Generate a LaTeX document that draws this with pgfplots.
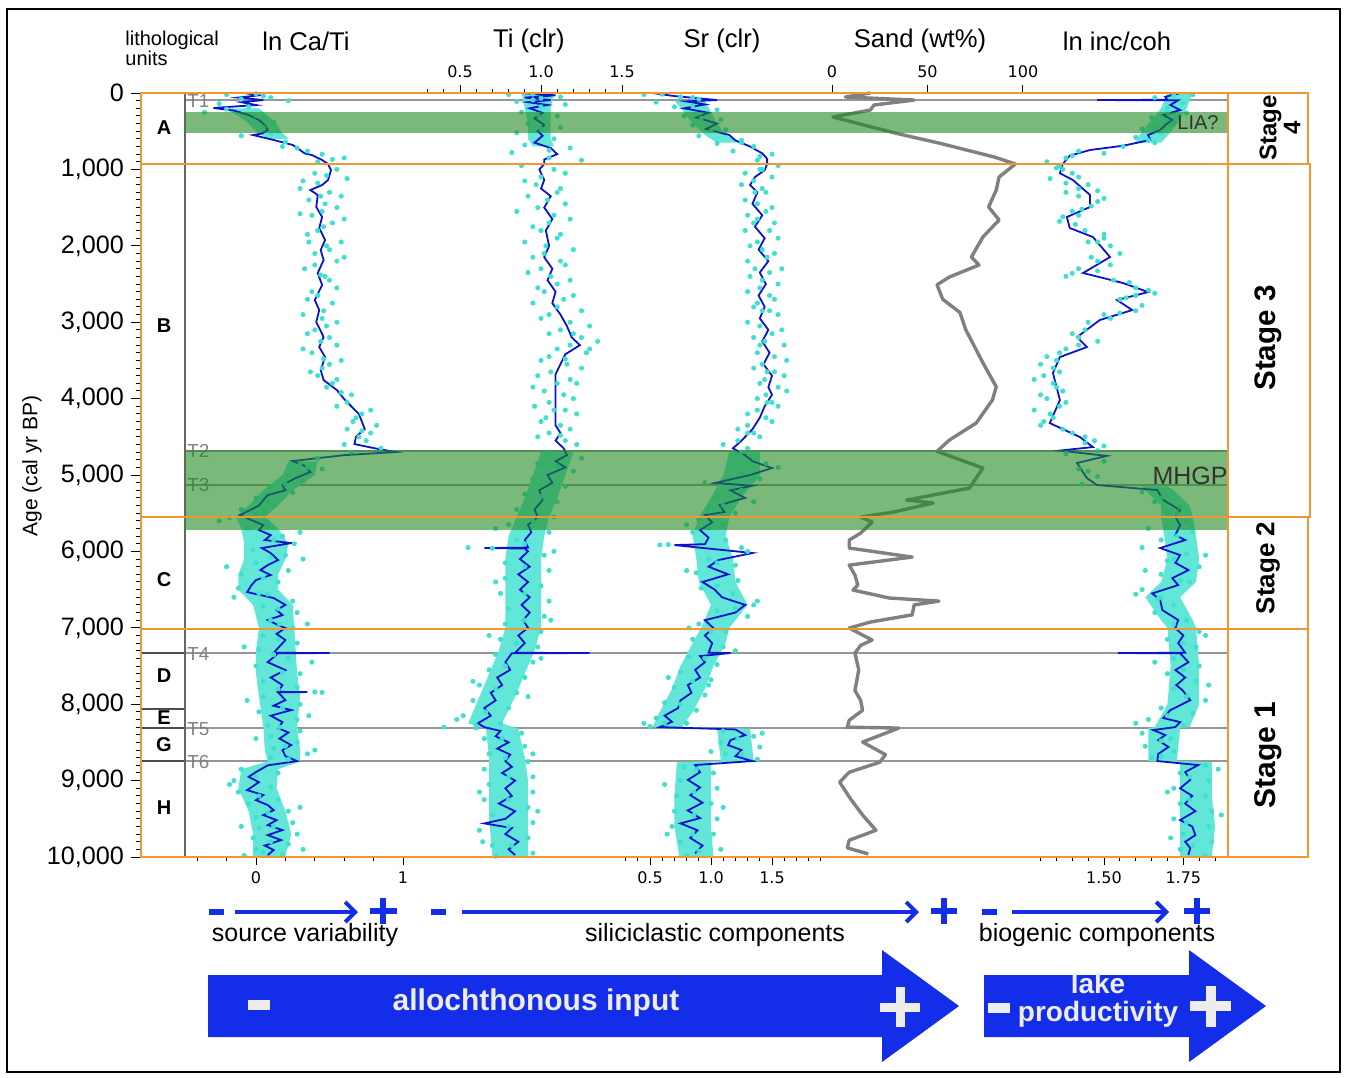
\documentclass[border=0pt]{standalone}
\usepackage{pgfplots}
\pgfplotsset{compat=1.18}
\usetikzlibrary{arrows.meta}
\usepackage{fontspec}
\setmainfont{Liberation Sans}
\newfontfamily\dejavu{DejaVu Sans}
\newcommand\fs[1]{\fontsize{#1}{#1}\selectfont}
\definecolor{cyanpt}{RGB}{64,224,208}
\definecolor{lineblue}{RGB}{10,20,205}
\definecolor{bandgreen}{RGB}{34,139,34}
\definecolor{stageorange}{RGB}{240,150,50}
\definecolor{arrowblue}{RGB}{20,45,232}
\definecolor{sandgray}{RGB}{128,128,128}
\definecolor{tgray}{RGB}{150,150,150}
\definecolor{darktext}{RGB}{50,50,50}
\pgfplotsset{
  panel/.style={scale only axis, height=382pt, ymin=0, ymax=10000, y dir=reverse,
    axis y line=none, ytick=\empty, clip=false, anchor=north west,
    axis line style={black, line width=0.6pt},
    tick align=outside, major tick length=4pt, minor tick length=2pt,
    tick style={black, line width=0.5pt},
    ticklabel style={font=\dejavu\fs{8}, /pgf/number format/assume math mode=true},
    scaled x ticks=false},
  sc/.style={only marks, mark=*, color=cyanpt, mark size=1.05pt, mark options={draw=cyanpt, fill=cyanpt}},
  env/.style={fill=cyanpt!82, draw=none, no marks, forget plot},
  ln/.style={no marks, lineblue, line width=0.9pt},
}
\begin{document}
\begin{tikzpicture}
\begin{scope}[x=0.5pt,y=-0.5pt]
\path[use as bounding box] (0,0) rectangle (1347,1077);
\coordinate (B0) at (141,93);
\coordinate (P1) at (185,93);
\coordinate (P2) at (418,93);
\coordinate (P3) at (622,93);
\coordinate (P4) at (822,93);
\coordinate (P5) at (1027,93);
% T lines and labels (beneath the data)
\draw[tgray, line width=0.6pt] (185,100)--(1228,100) (185,451)--(1228,451) (185,485)--(1228,485)
  (185,653)--(1228,653) (185,728)--(1228,728) (185,761)--(1228,761);
\begin{scope}[every node/.style={text=black!50, anchor=west, font=\fs{9.4}, inner sep=1pt}]
\node at (185,101) {T1};
\node at (185,451) {T2};
\node at (185,485) {T3};
\node at (185,654) {T4};
\node at (185,729) {T5};
\node at (185,762) {T6};
\end{scope}
\end{scope}

% ---------- ln Ca/Ti ----------
\begin{axis}[panel, at={(P1)}, width=116.5pt, xmin=-0.48299, xmax=1.10204,
  axis x line*=bottom, xtick={0,1}, xticklabels={0,1},
  minor xtick={-0.4,-0.2,0.2,0.4,0.6,0.8}]
\addplot[env] coordinates {(0.02,200) (0.08,300) (0.14,400) (0.17,500) (0.22,600) (0.08,600) (0.0,500) (-0.05,400) (-0.12,300) (-0.22,200)};
\addplot[env] coordinates {(0.42,4820) (0.40,5000) (0.25,5200) (0.15,5400) (0.06,5550) (0.15,5700) (0.22,5900) (0.20,6100) (0.15,6300) (0.15,6500) (0.25,6700) (0.26,7000) (0.27,7300) (0.28,7600) (0.30,7900) (0.28,8300) (0.30,8600) (0.30,8750) (0.15,8850) (0.14,9100) (0.20,9400) (0.24,9700) (0.20,9990)
(-0.02,9990) (-0.02,9700) (-0.05,9400) (-0.12,9100) (-0.10,8850) (0.08,8750) (0.06,8600) (0.05,8300) (0.02,7900) (0.0,7600) (0.0,7300) (0.02,7000) (-0.02,6700) (-0.12,6500) (-0.12,6300) (-0.08,6100) (-0.08,5900) (-0.10,5700) (-0.14,5550) (-0.05,5400) (0.05,5200) (0.18,5000) (0.22,4820)};
\addplot[sc] coordinates {
(-0.20,20) (0.05,40) (0.22,100) (-0.25,140) (0.10,60) (-0.05,180) (-0.35,250) (0.0,300) (0.12,380) (0.05,450) (0.15,500) (-0.10,560) (0.20,640) (0.18,700) (0.35,760) (0.45,800) (0.52,870) (0.60,850) (0.55,1000) (0.40,1050) (0.62,1120) (0.30,1250) (0.50,1300) (0.36,1400) (0.55,1500) (0.38,1600) (0.52,1700) (0.35,1850) (0.58,1950) (0.40,2100) (0.55,2200) (0.33,2300) (0.50,2450) (0.38,2600) (0.52,2750) (0.32,2900) (0.48,3050) (0.35,3150) (0.55,3300) (0.38,3400) (0.50,3550) (0.37,3650) (0.55,3750) (0.48,3850) (0.65,3950) (0.55,4100) (0.78,4150) (0.66,4300) (0.82,4350) (0.70,4500) (0.60,4600) (0.85,4650) (0.42,4780) (0.30,4850) (0.45,4920) (0.22,5000) (0.32,5080) (0.10,5150) (0.25,5230) (0.0,5300) (0.12,5380) (-0.10,5450) (0.05,5480) (-0.18,5560) (0.08,5620) (-0.05,5700) (0.18,5800) (0.26,5900) (-0.02,5980) (0.20,6050) (0.00,6150) (0.22,6250) (-0.10,6300) (0.15,6400) (-0.12,6480) (0.08,6560) (0.25,6650) (0.05,6720) (0.28,6800) (0.10,6900) (0.25,7000) (0.05,7100) (0.28,7200) (0.02,7280) (0.22,7400) (0.0,7500) (0.30,7600) (0.05,7700) (0.28,7780) (0.40,7840) (0.45,7845) (0.05,7900) (0.30,8000) (0.02,8100) (0.28,8200) (0.08,8280) (0.30,8350) (0.10,8420) (0.28,8500) (0.12,8580) (0.35,8650) (0.10,8700) (-0.10,8850) (0.15,8900) (-0.15,9000) (0.10,9080) (-0.12,9150) (0.15,9250) (-0.05,9300) (0.22,9400) (0.0,9480) (0.25,9550) (0.02,9620) (0.28,9700) (-0.02,9750) (0.22,9830) (0.0,9900) (0.18,9960) (-0.08,9980)
(0.0,10) (-0.1,80) (-0.2,210) (0.05,330) (0.1,520) (0.28,720) (0.42,900) (0.48,1080) (0.42,1180) (0.44,1350) (0.45,1550) (0.42,1800) (0.48,2000) (0.44,2380) (0.42,2650) (0.45,2950) (0.44,3250) (0.45,3600) (0.58,3920) (0.68,4250) (0.72,4420) (0.35,4900) (0.20,5120) (0.08,5350) (0.0,5520) (0.08,5680) (0.12,5850) (0.10,6080) (0.05,6350) (0.02,6550) (0.15,6750) (0.16,6950) (0.15,7150) (0.12,7350) (0.18,7580) (0.15,7800) (0.18,8050) (0.16,8300) (0.2,8550) (0.22,8720) (0.0,8950) (0.02,9200) (0.08,9420) (0.12,9600) (0.1,9800) (0.05,9940)
(0.32,1150) (0.58,1350) (0.47,1450) (0.30,1580) (0.60,1650) (0.46,1750) (0.36,1950) (0.50,2050) (0.60,2150) (0.40,2250) (0.47,2400) (0.55,2550) (0.35,2700) (0.46,2850) (0.55,3000) (0.40,3100) (0.50,3200) (0.32,3350) (0.46,3480) (0.58,3500) (0.42,3700) (0.52,3800) (0.62,4050) (0.72,4200) (0.62,4400) (0.78,4450) (0.75,4550) (0.65,4700)
(-0.25,5600) (0.30,5750) (-0.20,6200) (0.32,6100) (-0.15,6600) (0.35,6950) (-0.08,7250) (0.38,7450) (-0.06,7950) (0.36,8150) (0.0,8450) (0.40,8600) (-0.18,9050) (0.30,9350) (-0.10,9600) (0.32,9900)
};
\addplot[ln] coordinates {
(-0.08,0) (0.02,30) (-0.12,60) (0.05,92) (-0.10,120) (0.0,157) (-0.29,196) (-0.15,230) (-0.05,288) (0.02,353) (0.06,420) (0.08,484) (0.04,530) (-0.02,550) (0.12,615) (0.25,680) (0.30,746) (0.33,790) (0.38,812) (0.45,877) (0.49,929) (0.51,1010) (0.49,1139) (0.45,1204) (0.37,1270) (0.42,1335) (0.41,1492) (0.45,1623) (0.43,1767) (0.47,1924) (0.44,2055) (0.46,2186) (0.42,2356) (0.45,2513) (0.40,2710) (0.43,2841) (0.41,2998) (0.46,3194) (0.43,3325) (0.47,3456) (0.44,3626) (0.46,3757) (0.55,3888) (0.60,4006) (0.70,4202) (0.74,4398) (0.68,4500) (0.67,4595) (0.80,4647) (0.95,4699) (0.60,4740) (0.25,4817) (0.33,4880) (0.37,4961) (0.27,5040) (0.18,5131) (0.20,5200) (0.08,5262) (0.05,5328) (0.02,5400) (-0.04,5459) (-0.11,5524) (-0.03,5590) (0.05,5655) (0.02,5720) (0.10,5786) (0.06,5851) (0.24,5891) (0.04,5956) (0.10,6021) (0.15,6113) (0.08,6179) (0.03,6244) (0.10,6309) (0.00,6375) (-0.03,6440) (-0.06,6532) (0.12,6610) (0.20,6700) (0.14,6768) (0.18,6833) (0.08,6898) (0.15,6964) (0.20,7003) (0.14,7080) (0.20,7160) (0.12,7327) (0.50,7330) (0.15,7333) (0.08,7450) (0.20,7553) (0.10,7650) (0.18,7750) (0.15,7838) (0.35,7841) (0.15,7844) (0.20,7946) (0.12,8020) (0.24,8077) (0.10,8150) (0.18,8234) (0.15,8312) (0.22,8370) (0.16,8450) (0.24,8535) (0.18,8600) (0.20,8680) (0.28,8744) (0.08,8800) (0.00,8888) (-0.05,8950) (0.02,9020) (-0.06,9124) (0.05,9189) (0.00,9255) (0.08,9320) (0.12,9386) (0.05,9451) (0.14,9517) (0.08,9582) (0.18,9647) (0.08,9713) (0.17,9778) (0.06,9850) (0.12,9909) (0.08,9974)
};
\end{axis}

% ---------- Ti (clr) ----------
\begin{axis}[panel, at={(P2)}, width=110pt, xmin=0.24074, xmax=1.59877,
  axis x line*=top, xtick={0.5,1,1.5}, xticklabels={0.5,1.0,1.5},
  minor xtick={0.3,0.4,0.6,0.7,0.8,0.9,1.1,1.2,1.3,1.4,1.6}]
\addplot[env] coordinates {(1.08,0) (1.06,200) (1.06,400) (1.06,600) (1.08,700) (0.95,700) (0.92,600) (0.92,400) (0.90,200) (0.88,0)};
\addplot[env] coordinates {(1.20,4700) (1.15,5000) (1.10,5300) (1.05,5550) (1.02,5800) (1.00,6100) (1.00,6500) (1.00,7000) (0.96,7300) (0.90,7600) (0.84,7900) (0.76,8250) (0.86,8320) (0.90,8700) (0.92,9000) (0.92,9500) (0.92,9990)
(0.70,9990) (0.68,9500) (0.68,9000) (0.68,8700) (0.66,8320) (0.55,8250) (0.62,7900) (0.68,7600) (0.74,7300) (0.78,7000) (0.78,6500) (0.78,6100) (0.80,5800) (0.85,5550) (0.90,5300) (0.95,5000) (1.00,4700)};
\addplot[sc] coordinates {
(0.80,20) (1.12,50) (0.85,110) (1.15,150) (0.95,90) (0.88,250) (1.10,300) (0.92,400) (1.12,450) (0.85,520) (1.08,600) (0.90,680) (1.18,720) (0.82,780) (1.05,850) (1.25,880) (0.88,950) (1.15,1050) (0.90,1150) (1.12,1250) (0.92,1350) (1.15,1450) (0.85,1550) (1.18,1650) (0.95,1750) (1.12,1850) (0.90,1950) (1.20,2050) (0.95,2150) (1.15,2250) (0.92,2350) (1.18,2450) (0.98,2550) (1.20,2650) (0.95,2750) (1.25,2850) (1.00,2950) (1.30,3050) (1.05,3150) (1.35,3250) (1.10,3350) (1.28,3400) (1.00,3500) (1.25,3600) (0.98,3700) (1.22,3800) (1.02,3900) (1.20,4000) (0.96,4100) (1.22,4200) (1.00,4300) (1.18,4400) (0.98,4500) (1.22,4600) (1.05,4700) (1.25,4780) (0.98,4850) (1.20,4950) (0.95,5050) (1.15,5150) (0.90,5250) (1.10,5350) (0.85,5450) (1.08,5550) (0.80,5650) (1.05,5750) (0.85,5850) (0.55,5950) (0.70,5960) (1.02,6050) (0.78,6150) (1.05,6250) (0.78,6350) (1.00,6450) (0.75,6550) (1.05,6650) (0.80,6750) (1.02,6850) (0.78,6950) (1.00,7050) (0.75,7150) (0.98,7250) (0.72,7350) (0.95,7450) (0.68,7550) (0.90,7650) (0.62,7750) (0.85,7850) (0.58,7950) (0.80,8050) (0.52,8150) (0.75,8250) (0.40,8300) (0.60,8310) (0.88,8380) (0.65,8450) (0.90,8550) (0.68,8650) (0.92,8750) (0.65,8850) (0.95,8950) (0.68,9050) (0.95,9150) (0.65,9250) (0.92,9350) (0.70,9450) (0.95,9550) (0.62,9650) (0.92,9750) (0.70,9850) (0.95,9950) (0.72,9990)
(0.95,15) (1.0,70) (1.0,180) (0.98,280) (1.0,470) (1.05,750) (1.0,1100) (1.04,1400) (1.05,1700) (1.03,2000) (1.06,2400) (1.1,2800) (1.2,3150) (1.15,3480) (1.1,3800) (1.08,4150) (1.12,4480) (1.1,4880) (1.0,5280) (0.95,5600) (0.9,5900) (0.9,6200) (0.9,6550) (0.9,6900) (0.85,7200) (0.78,7500) (0.72,7800) (0.66,8100) (0.6,8280) (0.76,8450) (0.78,8700) (0.8,8950) (0.8,9250) (0.8,9600) (0.82,9850)
(1.08,1000) (0.97,1200) (1.10,1300) (0.98,1500) (1.08,1600) (1.00,1800) (1.10,1900) (1.02,2100) (1.12,2200) (1.00,2300) (1.10,2500) (1.02,2600) (1.14,2700) (1.05,2900) (1.18,3000) (1.12,3100) (1.25,3200) (1.18,3300) (1.30,3350) (1.05,3450) (1.16,3550) (1.06,3650) (1.18,3750) (0.95,3850) (1.14,3950) (1.05,4050) (1.15,4150) (1.03,4250) (1.12,4350) (1.05,4450) (1.15,4550)
(0.72,5700) (1.08,6000) (0.72,6400) (1.06,6900) (0.68,7100) (1.00,7400) (0.58,7700) (0.92,7900) (0.48,8200) (0.95,8650) (0.62,9150) (0.98,9400) (0.64,9800)
};
\addplot[ln] coordinates {
(0.87,0) (1.09,30) (0.90,60) (1.06,92) (0.92,120) (1.04,157) (0.93,200) (1.01,260) (0.96,330) (1.02,420) (0.98,500) (1.01,560) (0.96,650) (1.06,720) (1.10,800) (1.02,870) (1.02,929) (0.99,1000) (1.02,1139) (1.00,1250) (1.06,1350) (1.02,1500) (1.07,1650) (1.03,1800) (1.05,2000) (1.02,2150) (1.07,2300) (1.04,2450) (1.09,2600) (1.07,2750) (1.12,2900) (1.16,3050) (1.19,3200) (1.24,3300) (1.15,3420) (1.12,3550) (1.09,3680) (1.09,4350) (1.12,4450) (1.09,4550) (1.14,4650) (1.16,4740) (1.09,4820) (1.15,4900) (1.04,5000) (1.07,5100) (0.99,5200) (1.01,5330) (0.96,5450) (0.98,5550) (0.92,5650) (0.94,5750) (0.90,5850) (0.92,5950) (0.65,5956) (0.90,5962) (0.92,6000) (0.87,6100) (0.93,6200) (0.86,6300) (0.92,6400) (0.87,6500) (0.93,6600) (0.88,6700) (0.93,6800) (0.89,6900) (0.92,7000) (0.86,7100) (0.90,7200) (0.84,7327) (1.30,7330) (0.82,7333) (0.78,7450) (0.81,7550) (0.73,7650) (0.76,7750) (0.69,7850) (0.72,7950) (0.65,8050) (0.69,8150) (0.61,8250) (0.65,8300) (0.75,8350) (0.72,8420) (0.80,8500) (0.73,8580) (0.81,8660) (0.78,8744) (0.82,8820) (0.76,8900) (0.84,9000) (0.78,9100) (0.82,9200) (0.74,9300) (0.84,9400) (0.78,9500) (0.65,9560) (0.82,9620) (0.78,9700) (0.86,9800) (0.80,9900) (0.84,9974)
};
\end{axis}

% ---------- Sr (clr) ----------
\begin{axis}[panel, at={(P3)}, width=100.5pt, xmin=0.27049, xmax=1.91803,
  axis x line*=bottom, xtick={0.5,1,1.5}, xticklabels={0.5,1.0,1.5},
  minor xtick={0.3,0.4,0.6,0.7,0.8,0.9,1.1,1.2,1.3,1.4,1.6,1.7,1.8,1.9}]
\addplot[env] coordinates {(0.95,100) (1.00,250) (1.05,400) (1.12,550) (1.25,650) (1.05,650) (0.95,550) (0.85,400) (0.78,250) (0.70,100)};
\addplot[env] coordinates {(1.40,4700) (1.40,5000) (1.25,5300) (1.15,5550) (1.12,5800) (1.18,6100) (1.20,6400) (1.30,6700) (1.15,7000) (1.12,7200) (1.02,7500) (0.95,7800) (0.85,8100) (0.76,8300) (1.32,8320) (1.35,8740) (1.00,8760) (1.00,9200) (1.00,9600) (1.02,9990)
(0.74,9990) (0.70,9600) (0.70,9200) (0.72,8760) (1.08,8740) (1.05,8320) (0.52,8300) (0.58,8100) (0.68,7800) (0.75,7500) (0.85,7200) (0.92,7000) (1.00,6700) (0.90,6400) (0.88,6100) (0.85,5800) (0.90,5550) (1.00,5300) (1.10,5000) (1.15,4700)};
\addplot[sc] coordinates {
(0.45,20) (0.75,50) (0.55,120) (0.90,80) (0.70,180) (1.05,220) (0.78,300) (1.08,350) (0.85,420) (1.12,480) (0.90,560) (1.25,620) (1.05,660) (1.35,700) (1.18,760) (1.50,800) (1.38,880) (1.55,950) (1.28,1050) (1.50,1100) (1.25,1200) (1.45,1300) (1.28,1400) (1.50,1500) (1.30,1600) (1.52,1700) (1.28,1800) (1.55,1900) (1.32,2000) (1.52,2100) (1.30,2200) (1.58,2300) (1.32,2400) (1.55,2500) (1.30,2600) (1.52,2700) (1.35,2800) (1.55,2900) (1.30,3000) (1.58,3100) (1.35,3200) (1.60,3300) (1.38,3400) (1.62,3500) (1.35,3600) (1.60,3700) (1.40,3800) (1.62,3900) (1.38,4000) (1.55,4100) (1.30,4200) (1.50,4300) (1.22,4400) (1.40,4500) (1.10,4600) (1.30,4650) (1.20,4750) (1.45,4850) (1.55,4900) (1.25,4980) (1.40,5050) (0.95,5100) (1.25,5200) (1.05,5280) (1.35,5350) (0.98,5420) (1.20,5500) (0.90,5580) (1.10,5650) (0.85,5750) (1.12,5850) (0.65,5910) (0.58,5915) (1.30,6000) (0.98,6100) (1.20,6180) (0.88,6280) (1.22,6380) (0.92,6480) (1.18,6550) (1.35,6700) (1.05,6780) (1.30,6850) (0.90,6950) (1.12,7050) (0.85,7150) (1.10,7250) (0.82,7380) (1.05,7480) (0.75,7580) (1.00,7680) (0.70,7780) (0.95,7880) (0.62,7980) (0.88,8080) (0.55,8180) (0.80,8250) (0.50,8290) (1.10,8350) (1.35,8420) (1.08,8500) (1.40,8560) (1.12,8650) (1.38,8720) (0.78,8820) (1.02,8900) (0.75,9000) (1.05,9100) (0.72,9200) (1.00,9300) (0.70,9400) (1.05,9500) (0.68,9600) (1.02,9700) (0.75,9800) (1.08,9900) (0.80,9980)
(0.6,15) (0.85,60) (0.85,170) (0.92,330) (1.0,500) (1.25,650) (1.4,830) (1.42,1000) (1.36,1300) (1.38,1650) (1.42,2050) (1.42,2450) (1.42,2850) (1.44,3250) (1.46,3650) (1.46,4050) (1.3,4450) (1.25,4700) (1.35,5050) (1.1,5400) (0.98,5700) (1.05,6150) (1.05,6450) (1.2,6750) (1.0,7050) (0.95,7400) (0.85,7700) (0.75,8000) (0.62,8250) (1.22,8450) (1.25,8650) (0.88,8850) (0.86,9150) (0.86,9450) (0.85,9700) (0.9,9920)
(1.40,1000) (1.35,1150) (1.42,1250) (1.38,1450) (1.45,1550) (1.35,1700) (1.48,1800) (1.38,1950) (1.46,2150) (1.36,2300) (1.48,2350) (1.40,2550) (1.48,2650) (1.38,2750) (1.48,2850) (1.40,3050) (1.50,3150) (1.40,3300) (1.52,3450) (1.42,3550) (1.52,3650) (1.44,3750) (1.55,3850) (1.45,3950) (1.50,4050) (1.38,4150) (1.45,4250) (1.30,4350) (1.35,4450) (1.22,4550)
(0.80,5650) (1.25,5950) (0.80,6250) (1.38,6650) (0.82,7000) (1.20,7300) (0.65,7650) (0.98,7750) (0.45,8250) (1.42,8380) (1.00,8620) (0.62,9050) (1.10,9350) (0.64,9700)
};
\addplot[ln] coordinates {
(0.52,0) (0.70,40) (1.05,92) (0.80,110) (0.95,150) (0.78,200) (0.98,260) (0.88,320) (1.05,400) (0.96,470) (1.15,550) (1.20,620) (1.32,700) (1.42,790) (1.46,860) (1.46,929) (1.44,1010) (1.36,1100) (1.32,1204) (1.38,1300) (1.34,1450) (1.42,1600) (1.36,1750) (1.44,1900) (1.39,2050) (1.47,2200) (1.40,2350) (1.45,2500) (1.39,2650) (1.44,2800) (1.40,2950) (1.47,3100) (1.42,3250) (1.48,3400) (1.43,3550) (1.50,3700) (1.47,3850) (1.50,3950) (1.44,4100) (1.40,4250) (1.34,4400) (1.25,4550) (1.18,4650) (1.28,4740) (1.34,4820) (1.50,4909) (1.32,5000) (1.03,5105) (1.34,5140) (1.16,5200) (1.28,5300) (1.07,5393) (1.11,5485) (0.95,5524) (1.01,5620) (0.91,5720) (0.98,5820) (0.95,5905) (0.70,5917) (1.34,6021) (1.06,6113) (0.98,6200) (1.14,6300) (0.93,6400) (1.03,6500) (1.09,6600) (1.28,6700) (1.20,6800) (0.95,6900) (1.02,7003) (0.95,7100) (1.01,7200) (0.98,7327) (1.16,7330) (0.91,7370) (0.95,7450) (0.87,7550) (0.91,7650) (0.81,7750) (0.84,7850) (0.75,7950) (0.73,8050) (0.62,8150) (0.68,8230) (0.58,8300) (1.20,8330) (1.28,8404) (1.16,8470) (1.14,8535) (1.25,8600) (1.20,8680) (1.34,8744) (0.87,8796) (0.91,8890) (0.81,8990) (0.91,9090) (0.83,9190) (0.93,9290) (0.81,9390) (0.91,9490) (0.75,9560) (0.89,9650) (0.83,9750) (0.93,9850) (0.87,9950)
};
\end{axis}

% ---------- Sand (wt%) ----------
\begin{axis}[panel, at={(P4)}, width=102pt, xmin=-5.24, xmax=101.6,
  axis x line*=top, xtick={0,50,100}, xticklabels={0,50,100}]
\addplot[no marks, sandgray, line width=1.7pt, line join=round] coordinates {
(20,0) (7,52) (43,92) (22,157) (20,223) (0.5,314) (33,524) (56,655) (85,838) (96,929) (87.5,1100) (86,1270) (82,1492) (87.5,1662) (79,1885) (73,2147) (77,2251) (61.5,2408) (55,2510) (58,2700) (67,2873) (70,3096) (79,3530) (86,3845) (84,4019) (75.5,4320) (61.5,4542) (55,4690) (79,4909) (72,5171) (39,5328) (53,5367) (32,5485) (15,5550) (21,5616) (15,5760) (9,5851) (9,5956) (42,6074) (9,6179) (12,6309) (13.5,6440) (11,6506) (30,6610) (56,6650) (43,6700) (42,6830) (20,6925) (9,7003) (21,7160) (15,7230) (12,7330) (14,7550) (12,7820) (15,7950) (16,8080) (9,8210) (8,8300) (35,8312) (16,8495) (28,8660) (25,8760) (9,8890) (4,9020) (10,9250) (16,9450) (23,9650) (9,9780) (8,9880) (19,9960)
};
\end{axis}

% ---------- ln inc/coh ----------
\begin{axis}[panel, at={(P5)}, width=100.5pt, xmin=1.2573, xmax=1.8909,
  axis x line*=bottom, xtick={1.5,1.75}, xticklabels={1.50,1.75},
  minor xtick={1.30,1.35,1.40,1.45,1.55,1.60,1.65,1.70,1.80,1.85}]
\addplot[env] coordinates {(1.78,0) (1.76,200) (1.73,400) (1.70,560) (1.68,650) (1.60,650) (1.61,560) (1.64,400) (1.68,200) (1.70,0)};
\addplot[env] coordinates {(1.70,5150) (1.72,5200) (1.77,5400) (1.78,5550) (1.79,5800) (1.80,6100) (1.79,6400) (1.74,6600) (1.78,6900) (1.79,7000) (1.80,7500) (1.80,8000) (1.77,8300) (1.74,8310) (1.73,8740) (1.84,8760) (1.84,9200) (1.85,9600) (1.84,9990)
(1.74,9990) (1.74,9600) (1.74,9200) (1.74,8760) (1.64,8740) (1.64,8310) (1.66,8300) (1.70,8000) (1.71,7500) (1.70,7000) (1.68,6900) (1.63,6600) (1.68,6400) (1.70,6100) (1.69,5800) (1.68,5550) (1.68,5400) (1.63,5200) (1.62,5150)};
\addplot[sc] coordinates {
(1.78,20) (1.66,60) (1.75,130) (1.70,200) (1.76,260) (1.65,320) (1.72,400) (1.62,470) (1.68,520) (1.60,580) (1.66,650) (1.56,700) (1.42,760) (1.50,790) (1.38,850) (1.32,900) (1.35,980) (1.40,1050) (1.33,1120) (1.45,1200) (1.38,1300) (1.50,1380) (1.48,1420) (1.43,1520) (1.37,1620) (1.41,1720) (1.50,1850) (1.45,1950) (1.55,2100) (1.48,2200) (1.42,2300) (1.40,2360) (1.53,2450) (1.60,2550) (1.66,2620) (1.55,2700) (1.62,2780) (1.50,2900) (1.45,3000) (1.40,3150) (1.48,3250) (1.38,3350) (1.32,3450) (1.30,3550) (1.36,3650) (1.28,3750) (1.35,3850) (1.30,3950) (1.38,4050) (1.28,4150) (1.34,4250) (1.30,4350) (1.40,4450) (1.47,4550) (1.50,4620) (1.38,4720) (1.50,4820) (1.42,4920) (1.48,5020) (1.43,5120) (1.62,5220) (1.70,5280) (1.66,5350) (1.74,5420) (1.70,5500) (1.76,5600) (1.70,5680) (1.78,5750) (1.68,5850) (1.62,5950) (1.76,6030) (1.70,6120) (1.80,6200) (1.68,6300) (1.77,6400) (1.62,6500) (1.68,6600) (1.72,6700) (1.66,6800) (1.76,6900) (1.80,7050) (1.70,7150) (1.79,7250) (1.72,7400) (1.80,7500) (1.70,7600) (1.79,7700) (1.72,7800) (1.82,7950) (1.68,8050) (1.78,8120) (1.64,8200) (1.75,8280) (1.62,8380) (1.71,8450) (1.63,8550) (1.72,8620) (1.65,8700) (1.82,8800) (1.74,8900) (1.83,9000) (1.72,9100) (1.82,9200) (1.74,9300) (1.84,9400) (1.72,9500) (1.83,9600) (1.75,9700) (1.84,9800) (1.74,9900) (1.82,9980)
(1.72,30) (1.70,250) (1.66,450) (1.64,620) (1.40,820) (1.37,1000) (1.42,1250) (1.42,1600) (1.48,1950) (1.48,2330) (1.6,2650) (1.55,2880) (1.42,3200) (1.35,3500) (1.34,3800) (1.33,4200) (1.44,4580) (1.45,4950) (1.68,5300) (1.73,5500) (1.73,5800) (1.72,6100) (1.74,6380) (1.67,6620) (1.72,6950) (1.75,7200) (1.75,7550) (1.76,7900) (1.70,8150) (1.68,8480) (1.68,8680) (1.77,8950) (1.77,9250) (1.76,9550) (1.78,9850)
(1.36,950) (1.42,1100) (1.38,1180) (1.48,1280) (1.42,1350) (1.46,1480) (1.40,1550) (1.36,1680) (1.44,1800) (1.50,1900) (1.52,2000) (1.46,2150) (1.52,2250) (1.38,2400) (1.58,2480) (1.64,2580) (1.57,2680) (1.60,2850) (1.52,2950) (1.44,3100) (1.42,3300) (1.36,3400) (1.34,3600) (1.31,3700) (1.37,3900) (1.32,4000) (1.36,4100) (1.31,4300) (1.37,4400) (1.44,4500) (1.48,4680)
(1.64,5700) (1.82,6050) (1.63,6250) (1.60,6560) (1.82,7100) (1.66,7450) (1.83,7750) (1.60,8250) (1.86,8850) (1.70,9150) (1.87,9450) (1.71,9750)
};
\addplot[ln] coordinates {
(1.740,0) (1.693,50) (1.70,89) (1.478,92) (1.734,95) (1.709,157) (1.740,223) (1.687,288) (1.715,353) (1.693,420) (1.677,484) (1.639,550) (1.646,615) (1.56,690) (1.456,746) (1.392,820) (1.370,929) (1.361,1050) (1.402,1139) (1.456,1335) (1.456,1492) (1.383,1623) (1.392,1767) (1.465,1885) (1.519,2147) (1.434,2356) (1.560,2487) (1.639,2605) (1.541,2710) (1.589,2841) (1.487,2971) (1.415,3194) (1.446,3325) (1.361,3456) (1.339,3665) (1.361,4019) (1.329,4320) (1.424,4503) (1.465,4634) (1.361,4680) (1.509,4750) (1.415,4843) (1.446,5040) (1.478,5131) (1.668,5197) (1.687,5328) (1.740,5459) (1.725,5550) (1.740,5655) (1.725,5786) (1.756,5851) (1.677,5956) (1.740,6048) (1.725,6150) (1.766,6244) (1.715,6350) (1.734,6440) (1.652,6550) (1.677,6637) (1.684,6768) (1.734,6898) (1.725,7003) (1.750,7100) (1.734,7200) (1.756,7327) (1.544,7330) (1.740,7333) (1.766,7450) (1.725,7553) (1.756,7650) (1.728,7750) (1.747,7815) (1.772,7946) (1.709,8077) (1.687,8181) (1.740,8234) (1.725,8299) (1.655,8338) (1.693,8404) (1.671,8470) (1.703,8560) (1.671,8650) (1.668,8744) (1.797,8796) (1.756,8888) (1.772,8990) (1.740,9100) (1.778,9200) (1.756,9300) (1.788,9400) (1.740,9517) (1.778,9600) (1.788,9713) (1.756,9800) (1.772,9883) (1.766,9974)
};
\end{axis}

% ---------- base axis (age) ----------
\begin{axis}[scale only axis, anchor=north west, at={(B0)}, width=543.5pt, height=382pt,
  xmin=141, xmax=1228, ymin=0, ymax=10000, y dir=reverse, clip=false,
  axis x line=none, axis y line*=left,
  y axis line style={stageorange, line width=1.3pt},
  ytick={0,1000,...,10000}, minor y tick num=9, scaled y ticks=false,
  tick align=outside, major tick length=5pt, minor tick length=2.5pt,
  tick style={black, line width=0.5pt},
  yticklabel style={font=\fs{12.6}, /pgf/number format/assume math mode=true,
    /pgf/number format/1000 sep={,}}]
\end{axis}

% ---------- decorations in pixel units ----------
\begin{scope}[x=0.5pt,y=-0.5pt]
\draw[black!70, line width=0.7pt] (141,653)--(185,653) (141,709)--(185,709) (141,728)--(185,728)
  (141,761)--(185,761) (141,164)--(185,164) (141,517)--(185,517);
\draw[black!60, line width=0.6pt] (185,93)--(185,857);
\fill[bandgreen, opacity=0.6] (185,112) rectangle (1228,133);
\fill[bandgreen, opacity=0.6] (185,450) rectangle (1228,530);
\begin{scope}[stageorange, line width=1.3pt]
\draw (141,93) rectangle (1308,164);
\draw (141,164) rectangle (1310,517);
\draw (141,517) rectangle (1308,629);
\draw (141,629) rectangle (1308,857);
\draw (1228,93)--(1228,857);
\end{scope}
\node[text=darktext, font=\fs{10}] at (1198,123) {LIA?};
\node[text=darktext, font=\fs{12.5}] at (1190,476) {MHGP};
\begin{scope}[every node/.style={font=\bfseries\fs{10}}]
\node at (164,128) {A};
\node at (164,326) {B};
\node at (164,580) {C};
\node at (164,676) {D};
\node at (164,718) {E};
\node at (164,745) {G};
\node at (164,808) {H};
\end{scope}
\node[rotate=90, font=\bfseries\fs{12}, align=center] at (1280,128) {Stage\\4};
\node[rotate=90, font=\bfseries\fs{14.8}] at (1268,338) {Stage 3};
\node[rotate=90, font=\bfseries\fs{13}] at (1268,568) {Stage 2};
\node[rotate=90, font=\bfseries\fs{15}] at (1268,755) {Stage 1};
\node[font=\fs{10}, align=left, anchor=west, inner sep=0pt] at (125,48) {lithological\\units};
\node[font=\fs{12.8}] at (306,41) {ln Ca/Ti};
\node[font=\fs{12.8}] at (529,41) {Ti (clr)};
\node[font=\fs{12.8}] at (722,41) {Sr (clr)};
\node[font=\fs{12.8}] at (920,41) {Sand (wt\%)};
\node[font=\fs{12.8}] at (1117,41) {ln inc/coh};
\node[rotate=90, font=\fs{10.5}] at (32,466) {Age (cal yr BP)};
\begin{scope}[arrowblue]
\fill (209,909) rectangle (224,915);
\draw[line width=2pt, -{Straight Barb[length=5pt,width=10pt,line width=2pt]}] (235,912)--(358,912);
\draw[line width=2.6pt] (370,911)--(397,911) (383,898)--(383,924);
\fill (431,909) rectangle (446,915);
\draw[line width=2pt, -{Straight Barb[length=5pt,width=10pt,line width=2pt]}] (462,912)--(919,912);
\draw[line width=2.6pt] (931,911)--(957,911) (944,898)--(944,924);
\fill (982,909) rectangle (997,915);
\draw[line width=2pt, -{Straight Barb[length=5pt,width=10pt,line width=2pt]}] (1012,912)--(1169,912);
\draw[line width=2.6pt] (1184,911)--(1210,911) (1197,898)--(1197,924);
\end{scope}
\node[font=\fs{12.5}] at (305,935) {source variability};
\node[font=\fs{12.5}] at (715,935) {siliciclastic components};
\node[font=\fs{12.5}] at (1097,935) {biogenic components};
\fill[arrowblue] (208,975)--(882,975)--(882,950)--(959,1006)--(882,1062)--(882,1037)--(208,1037)--cycle;
\fill[arrowblue] (984,975)--(1189,975)--(1189,950)--(1266,1006)--(1189,1062)--(1189,1037)--(984,1037)--cycle;
\fill[white!93!black] (248,1000) rectangle (270,1010);
\draw[white!93!black, line width=4.5pt] (880,1007)--(920,1007) (900,987)--(900,1027);
\node[text=white!93!black, font=\bfseries\fs{15}] at (536,1003) {allochthonous input};
\fill[white!93!black] (988,1003) rectangle (1010,1013);
\draw[white!93!black, line width=5pt] (1190,1006)--(1231,1006) (1210.5,986)--(1210.5,1027);
\node[text=white!93!black, font=\bfseries\fs{14}, align=center] at (1098,1000) {lake\\productivity};
\draw[line width=1.2pt] (7,9) rectangle (1340,1072);
\end{scope}
\end{tikzpicture}
\end{document}
